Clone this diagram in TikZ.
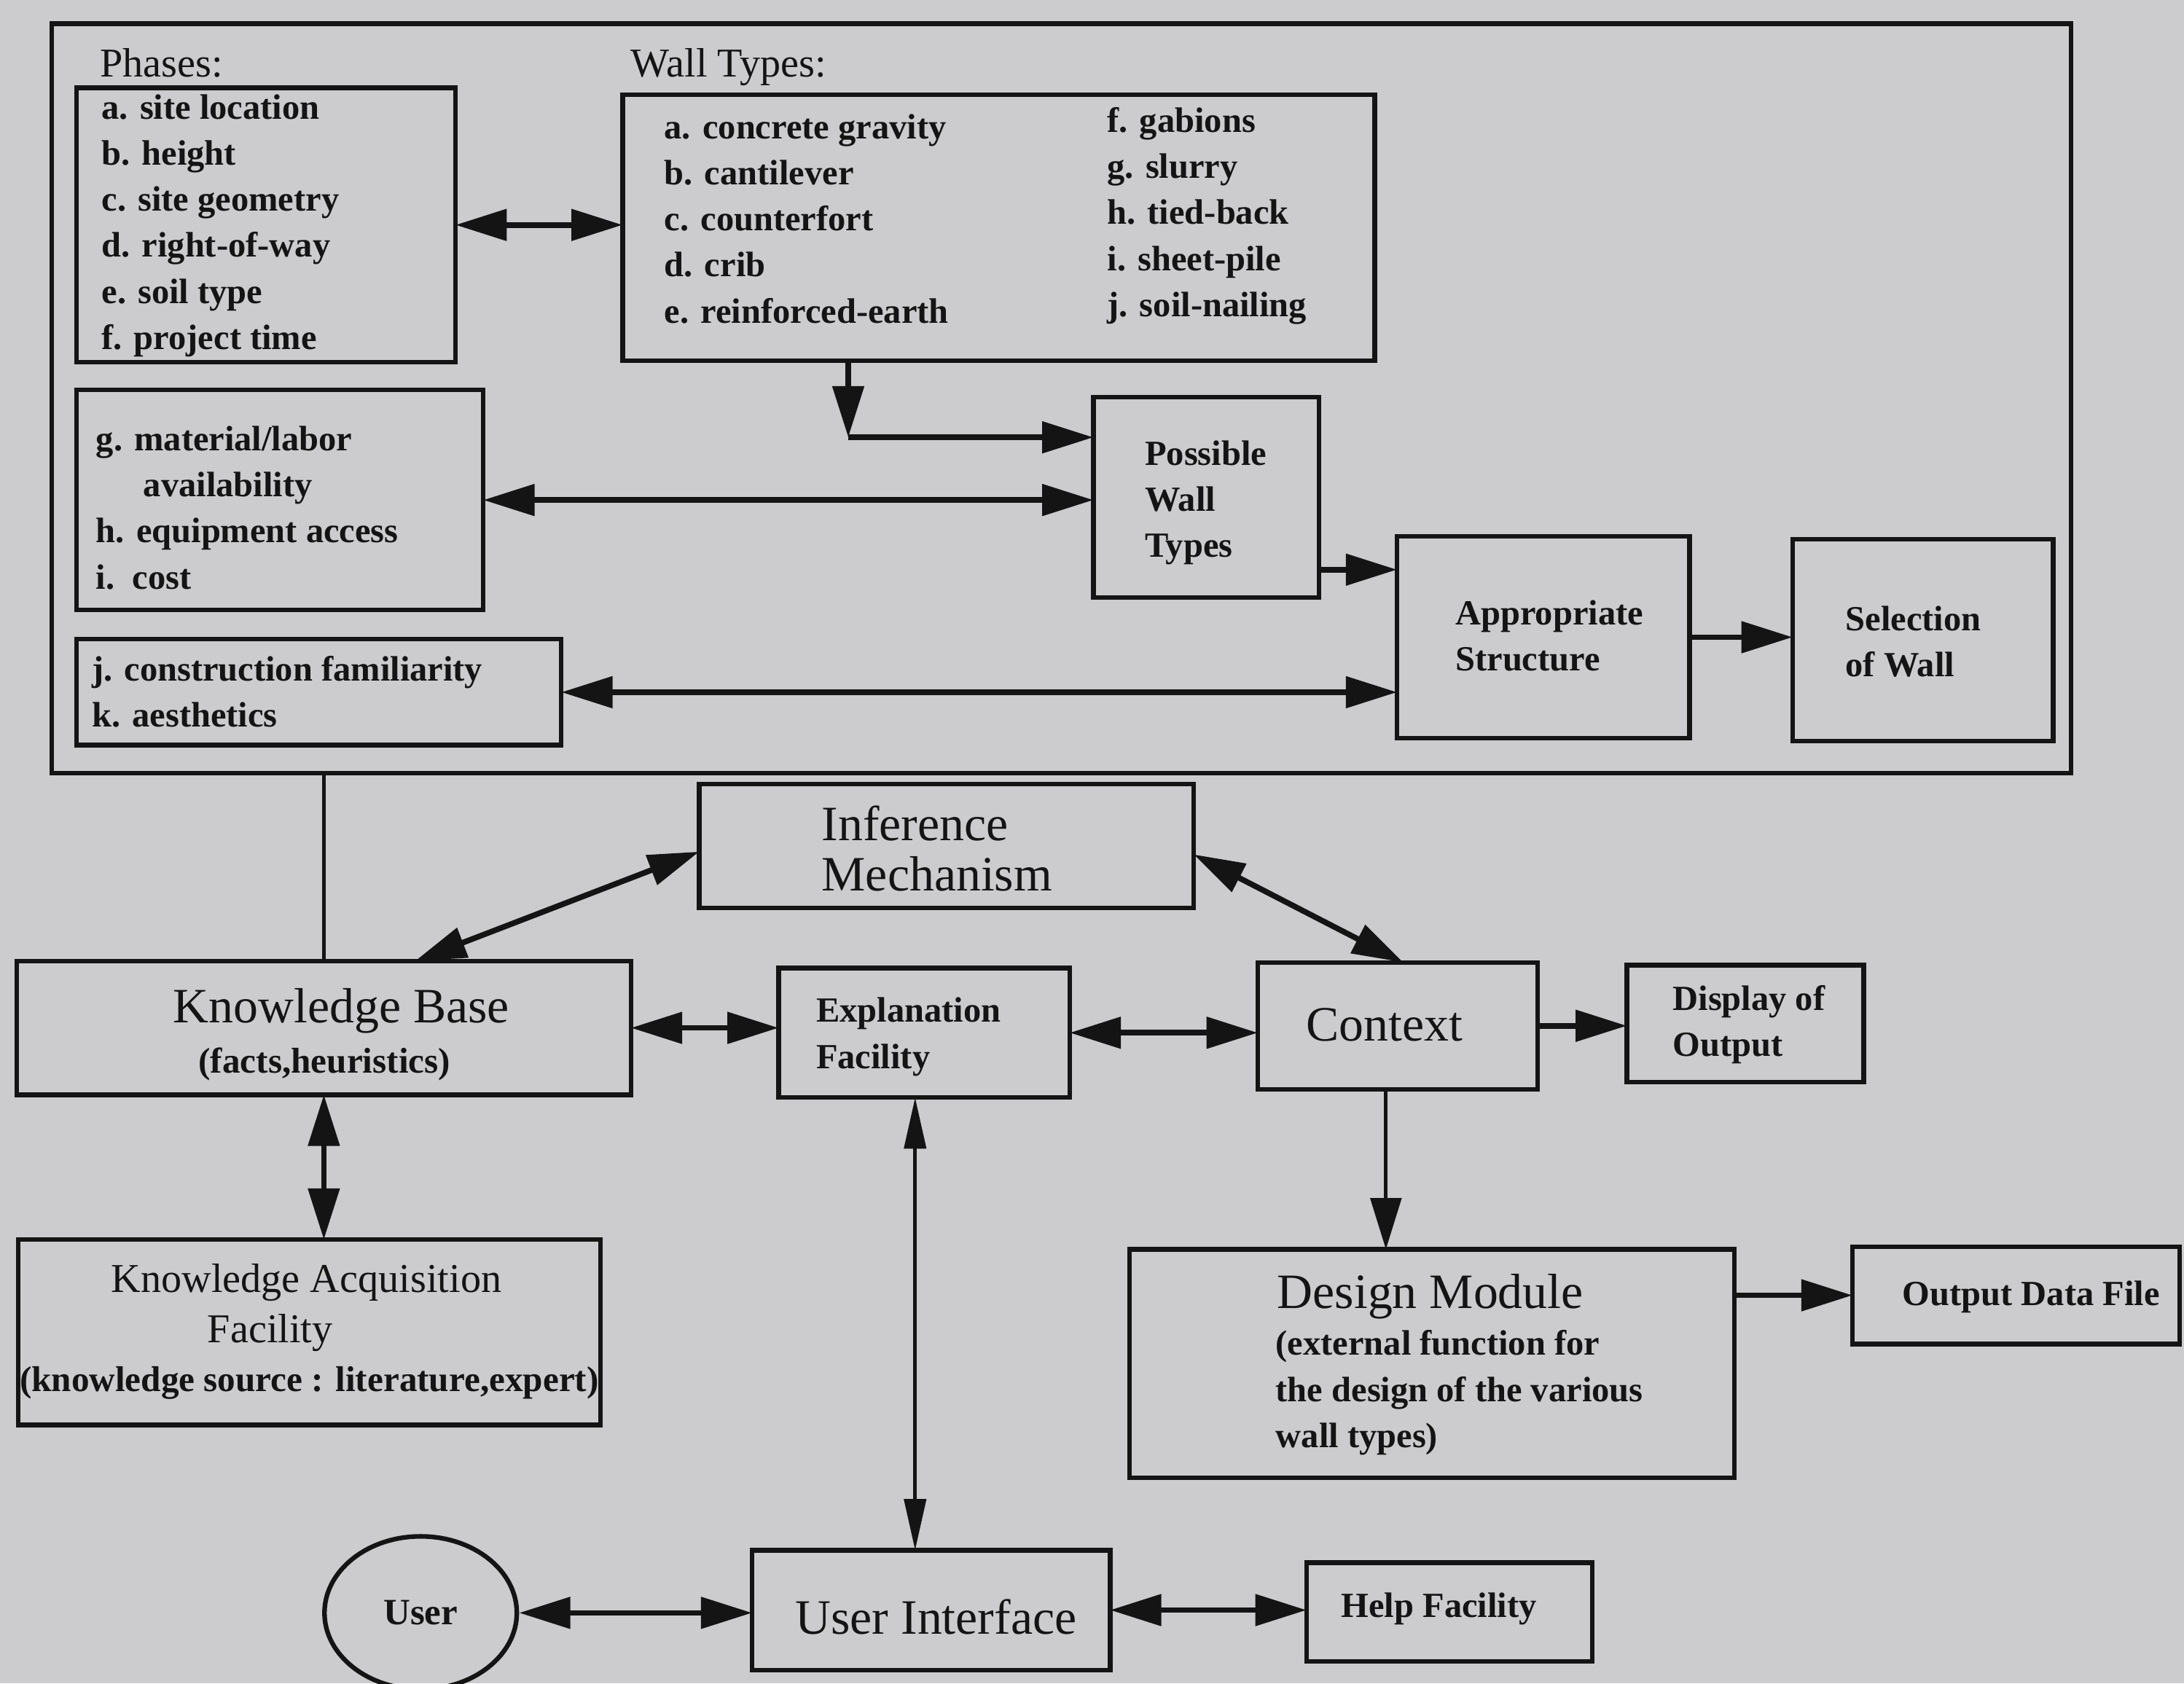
\documentclass[tikz,border=0pt]{standalone}
\usepackage{fontspec}
\setmainfont{Liberation Serif}
\usetikzlibrary{arrows.meta,calc,fit,shapes.geometric}
\definecolor{paper}{RGB}{204,204,206}
\definecolor{ink}{RGB}{20,20,20}
\begin{document}
\begin{tikzpicture}[x=0.019113cm, y=-0.019113cm,
  box/.style={draw=ink, line width=1.8pt, inner sep=0pt, outer sep=0pt},
  wire/.style={draw=ink, line width=2.2pt},
  fine/.style={draw=ink, line width=1.4pt},
  bigtip/.tip={Triangle[length=20pt,width=12pt]},
  slimtip/.tip={Triangle[length=20pt,width=8.5pt]},
  one/.style={-bigtip},
  two/.style={bigtip-bigtip},
  twoslim/.style={slimtip-slimtip},
  lbl/.style={text=ink, inner sep=0pt, outer sep=0pt},
  item/.style={lbl, font=\fontsize{13.8}{18}\selectfont\bfseries, align=left, anchor=west},
  title/.style={lbl, font=\fontsize{19.3}{19.6}\selectfont},
  heading/.style={lbl, font=\fontsize{16}{18}\selectfont},
]
% paper and picture extent
\fill[paper] (0,0) rectangle (1568,1208.6);
\useasboundingbox (0,0) rectangle (1568,1208.6);

% ---------- wall selection frame ----------
\node[box, fit={(37,17) (1487,555)}] (frame) {};
\node[heading, anchor=west] (phl) at (72,45) {Phases:};
\node[heading, anchor=west] (wtl) at (453,48) {Wall Types:};

\node[box, fit={(55,63) (327,260)}] (ph) {};
\node[item] (phx) at (73,162) {a. site location\\b. height\\c. site geometry\\d. right-of-way\\e. soil type\\f. project time};

\node[box, fit={(447,68) (987,259)}] (wt) {};
\node[item] (wta) at (477,157) {a. concrete gravity\\b. cantilever\\c. counterfort\\d. crib\\e. reinforced-earth};
\node[item] (wtb) at (795,155) {f. gabions\\g. slurry\\h. tied-back\\i. sheet-pile\\j. soil-nailing};

\node[box, fit={(55,280) (347,438)}] (gb) {};
\node[item] (gbx) at (69,364.5) {g. material/labor\\\hspace*{18.5pt}availability\\h. equipment access\\i.\ \ cost};

\node[box, fit={(55,459) (403,535)}] (jb) {};
\node[item] (jbx) at (66,496.5) {j. construction familiarity\\k. aesthetics};

\node[box, fit={(785,285) (947,429)}] (pw) {};
\node[item] (pwx) at (822,361) {Possible\\Wall\\Types};

\node[box, fit={(1003,385) (1213,530)}] (ap) {};
\node[item] (apx) at (1045,456.5) {Appropriate\\Structure};

\node[box, fit={(1287,387) (1474,532)}] (sw) {};
\node[item] (swx) at (1325,460.5) {Selection\\of Wall};

% ---------- expert system blocks ----------
\node[box, fit={(502,563) (857,652)}] (im) {};
\node[title, anchor=west, align=left] (imx) at (590,609) {Inference\\Mechanism};

\node[box, fit={(12,690) (453,786)}] (kb) {};
\node[title] (kbx) at (245,726) {Knowledge Base};
\node[lbl, font=\fontsize{14}{16}\selectfont\bfseries] (kbs) at (233,764) {(facts,heuristics)};

\node[box, fit={(559,695) (768,788)}] (ex) {};
\node[item] (exx) at (586,744.5) {Explanation\\Facility};

\node[box, fit={(903,691) (1104,782)}] (ctx) {};
\node[title] (ctxx) at (994,736) {Context};

\node[box, fit={(1168,693) (1338,777)}] (dsp) {};
\node[item] (dspx) at (1201,735.5) {Display of\\Output};

\node[box, fit={(13,890) (431,1023)}] (kaf) {};
\node[heading] (kafa) at (220,921) {Knowledge Acquisition};
\node[heading] (kafb) at (194,957) {Facility};
\node[lbl, font=\fontsize{14}{16}\selectfont\bfseries] (kafc) at (222,993) {(knowledge source : literature,expert)};

\node[box, fit={(811,897) (1245,1061)}] (dm) {};
\node[title, anchor=west] (dmx) at (917,931) {Design Module};
\node[item] (dmy) at (916,1000) {(external function for\\the design of the various\\wall types)};

\node[box, fit={(1330,895) (1565,965)}] (odf) {};
\node[item] (odfx) at (1366,931) {Output Data File};

\node[draw=ink, line width=1.8pt, ellipse, minimum width=2.64cm, minimum height=2.1cm, inner sep=0pt,
      text=ink, font=\fontsize{14.5}{16}\selectfont\bfseries] (usr) at (302,1158) {User};

\node[box, fit={(540,1113) (797,1199)}] (ui) {};
\node[title] (uix) at (672,1161) {User Interface};

\node[box, fit={(938,1122) (1143,1193)}] (hf) {};
\node[item] (hfx) at (963,1155) {Help Facility};

% ---------- connectors ----------
\coordinate (bend) at (609,314);
\coordinate (lowin) at (970,409);
\coordinate (kbtop) at (298,690);
\coordinate (dmx0) at (995,0);
\coordinate (exline) at (657,0);

\draw[wire,two] (ph.east) -- (ph.east -| wt.west);
\draw[wire,one] (wt.south -| bend) -- (bend);
\draw[wire,one] (bend) -- (bend -| pw.west);
\draw[wire,two] (gb.east) -- (gb.east -| pw.west);
\draw[wire,one] (lowin -| pw.east) -- (lowin -| ap.west);
\draw[wire,two] (jb.east) -- (jb.east -| ap.west);
\draw[wire,one] (ap.east) -- (ap.east -| sw.west);

\draw[fine] (kb.north) -- (kb.north |- frame.south);
\draw[wire,two] (kbtop) -- ($(im.west)+(0,4)$);
\draw[wire,two] ($(im.east)+(0,6)$) -- ($(ctx.north)+(4,0)$);
\draw[wire,two] (kb.east) -- (kb.east -| ex.west);
\draw[wire,two] (ex.east) -- (ex.east -| ctx.west);
\draw[wire,one] (ctx.east) -- (ctx.east -| dsp.west);
\draw[fine,one] (ctx.south -| dmx0) -- (dm.north -| dmx0);
\draw[wire,two] (kb.south) -- (kb.south |- kaf.north);
\draw[fine,twoslim] (ex.south -| exline) -- (ui.north -| exline);
\draw[wire,one] (odf.west -| dm.east) -- (odf.west);
\draw[wire,two] (usr.east) -- (usr.east -| ui.west);
\draw[wire,two] (ui.east) -- (ui.east -| hf.west);
\end{tikzpicture}
\end{document}
